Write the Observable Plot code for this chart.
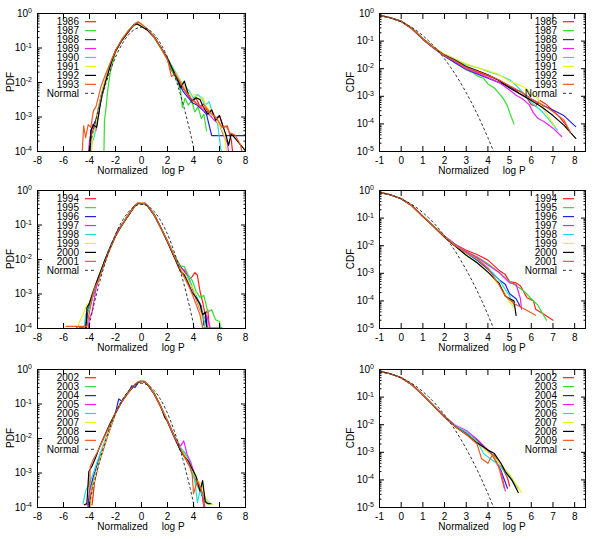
<!DOCTYPE html>
<html>
<head>
<meta charset="utf-8">
<script src="https://cdn.jsdelivr.net/npm/d3@7"></script>
<script src="https://cdn.jsdelivr.net/npm/@observablehq/plot@0.6"></script>
<style>
  body { margin: 0; background: #fff; }
  #fig { position: relative; width: 594px; height: 539px; background: #fff; font-family: "Liberation Sans", Arial, sans-serif; }
  #fig svg { position: absolute; overflow: visible; }
</style>
</head>
<body>
<div id="fig"></div>
<script>
// Years shown in each row of panels
const yearsTop = ["1986", "1987", "1988", "1989", "1990", "1991", "1992", "1993"];
const yearsMid = ["1994", "1995", "1996", "1997", "1998", "1999", "2000", "2001"];
const yearsBot = ["2002", "2003", "2004", "2005", "2006", "2007", "2008", "2009"];

// Series colours, in legend order
const colors = ["#ff2020", "#33dd33", "#2222e0", "#ee22ee", "#22dddd", "#eeee22", "#000000", "#f05a20"];

// Standard normal density, [x, pdf]
const normalPdf = [
  [-4.25, 4.78e-5], [-4, 1.34e-4], [-3.75, 3.53e-4], [-3.5, 8.73e-4], [-3.25, 2.03e-3], [-3, 4.43e-3],
  [-2.75, 9.1e-3], [-2.5, 0.0175], [-2.25, 0.0317], [-2, 0.054], [-1.75, 0.0863], [-1.5, 0.1295],
  [-1.25, 0.1826], [-1, 0.242], [-0.75, 0.3011], [-0.5, 0.3521], [-0.25, 0.3867], [0, 0.3989],
  [0.25, 0.3867], [0.5, 0.3521], [0.75, 0.3011], [1, 0.242], [1.25, 0.1826], [1.5, 0.1295],
  [1.75, 0.0863], [2, 0.054], [2.25, 0.0317], [2.5, 0.0175], [2.75, 9.1e-3], [3, 4.43e-3],
  [3.25, 2.03e-3], [3.5, 8.73e-4], [3.75, 3.53e-4], [4, 1.34e-4], [4.25, 4.78e-5]
];

// Standard normal upper tail, [x, 1 - Phi(x)]
const normalCdf = [
  [-1, 0.8413], [-0.75, 0.7734], [-0.5, 0.6915], [-0.25, 0.5987], [0, 0.5], [0.25, 0.4013],
  [0.5, 0.3085], [0.75, 0.2266], [1, 0.1587], [1.25, 0.1056], [1.5, 0.0668], [1.75, 0.0401],
  [2, 0.02275], [2.25, 0.01222], [2.5, 0.00621], [2.75, 0.00298], [3, 0.00135], [3.25, 5.77e-4],
  [3.5, 2.33e-4], [3.75, 8.84e-5], [4, 3.17e-5], [4.25, 1.07e-5], [4.5, 3.4e-6]
];

// PDF of normalized log price, 1986-1993
const pdfTop = [
  [[-4.0,5e-5],[-3.85,3.5e-4],[-3.6,5e-4],[-3.35,1.6e-3],[-3.1,4e-3],[-2.8,0.011],[-2.5,0.026],[-2.0,0.08],[-1.5,0.17],[-1.0,0.31],[-0.6,0.45],[-0.3,0.56],[0,0.47],[0.5,0.34],[1.0,0.2],[1.5,0.1],[2.0,0.046],[2.3,0.022],[2.6,0.017],[3.0,0.009],[3.3,0.006],[3.6,0.0045],[3.9,0.0028],[4.2,0.0035],[4.5,0.002],[4.8,0.0024],[5.1,0.0014],[5.4,0.0016],[5.7,0.0009],[6.0,0.0011],[6.3,0.0005],[6.6,0.00055],[6.9,0.00022],[7.1,5e-5]],
  [[-2.9,5e-5],[-2.85,8e-4],[-2.75,1.5e-3],[-2.6,6e-3],[-2.4,0.02],[-2.0,0.075],[-1.5,0.18],[-1.0,0.33],[-0.6,0.44],[-0.3,0.5],[0,0.45],[0.5,0.34],[1.0,0.21],[1.5,0.1],[2.0,0.045],[2.4,0.02],[2.8,0.01],[3.0,0.006],[3.15,0.0019],[3.35,0.0035],[3.6,0.0022],[3.85,0.003],[4.1,0.0014],[4.35,0.002],[4.6,0.0009],[4.8,0.0012],[5.0,0.0004]],
  [[-4.05,5e-5],[-3.9,4e-4],[-3.6,7e-4],[-3.3,1.2e-3],[-3.15,3.5e-3],[-3.05,5e-3],[-2.8,0.01],[-2.5,0.028],[-2.0,0.085],[-1.5,0.17],[-1.0,0.31],[-0.6,0.47],[-0.35,0.55],[0,0.44],[0.5,0.32],[1.0,0.2],[1.5,0.1],[2.0,0.046],[2.4,0.024],[2.8,0.011],[3.2,0.0055],[3.5,0.004],[3.9,0.0026],[4.3,0.0022],[4.7,0.0016],[5.0,0.0012],[5.4,2.9e-4],[8.0,2.9e-4]],
  [[-4.15,5e-5],[-4.0,2e-4],[-3.75,6e-4],[-3.5,4e-4],[-3.3,1.5e-3],[-3.0,5e-3],[-2.7,0.014],[-2.3,0.04],[-2.0,0.082],[-1.5,0.17],[-1.0,0.31],[-0.5,0.5],[-0.3,0.54],[0,0.46],[0.5,0.33],[1.0,0.2],[1.5,0.1],[2.0,0.05],[2.4,0.025],[2.8,0.012],[3.2,0.007],[3.6,0.004],[4.0,0.003],[4.4,0.0022],[4.8,0.0015],[5.2,0.0012],[5.6,0.0008],[6.0,0.0006],[6.3,0.0003],[6.6,0.00018],[6.8,5e-5]],
  [[-4.0,5e-5],[-3.85,1.5e-4],[-3.6,3e-4],[-3.3,2e-3],[-3.0,5e-3],[-2.7,0.015],[-2.4,0.035],[-2.0,0.08],[-1.5,0.17],[-1.0,0.32],[-0.5,0.5],[-0.25,0.53],[0,0.45],[0.5,0.33],[1.0,0.2],[1.5,0.1],[2.0,0.05],[2.5,0.024],[2.9,0.013],[3.3,0.008],[3.7,0.0055],[4.0,0.0035],[4.3,0.0045],[4.6,0.0036],[4.9,0.0022],[5.2,0.0028],[5.5,0.0012],[5.8,0.0009],[6.1,0.00012],[6.3,5e-5]],
  [[-3.9,5e-5],[-3.75,3e-4],[-3.5,6e-4],[-3.25,2e-3],[-3.0,6e-3],[-2.6,0.02],[-2.2,0.05],[-1.8,0.11],[-1.4,0.2],[-1.0,0.32],[-0.5,0.48],[-0.2,0.5],[0,0.45],[0.5,0.34],[1.0,0.19],[1.5,0.095],[2.0,0.045],[2.5,0.022],[3.0,0.011],[3.4,0.0065],[3.8,0.004],[4.1,0.0045],[4.4,0.0032],[4.7,0.0038],[5.0,0.002],[5.4,0.0014],[5.8,0.0008],[6.1,0.0005],[6.4,0.00028],[6.6,5e-5]],
  [[-4.0,5e-5],[-3.9,4e-4],[-3.7,6e-4],[-3.45,5e-4],[-3.2,2e-3],[-3.0,5e-3],[-2.7,0.013],[-2.3,0.04],[-2.0,0.08],[-1.5,0.17],[-1.0,0.3],[-0.6,0.46],[-0.35,0.5],[0,0.42],[0.5,0.32],[1.0,0.2],[1.5,0.1],[2.0,0.05],[2.4,0.024],[2.8,0.012],[3.0,0.007],[3.3,0.011],[3.6,0.0045],[3.9,0.003],[4.2,0.0036],[4.5,0.0032],[4.8,0.0018],[5.1,0.0012],[5.4,0.0016],[5.7,0.0008],[6.0,0.0011],[6.3,0.0005],[6.5,0.0003],[6.7,1.5e-4],[6.9,3.3e-4],[8.0,1.05e-4]],
  [[-4.6,5e-5],[-4.45,5.5e-4],[-4.3,2.5e-4],[-4.1,6e-4],[-3.9,5e-4],[-3.7,1.5e-3],[-3.5,2e-3],[-3.3,4e-3],[-3.1,0.008],[-2.8,0.016],[-2.5,0.03],[-2.0,0.085],[-1.5,0.18],[-1.0,0.32],[-0.5,0.5],[-0.25,0.58],[0,0.5],[0.5,0.34],[1.0,0.2],[1.5,0.1],[2.0,0.046],[2.3,0.015],[2.6,0.018],[3.0,0.01],[3.4,0.0055],[3.8,0.0035],[4.2,0.0025],[4.6,0.002],[5.0,0.0018],[5.4,0.0012],[5.8,0.0009],[6.2,0.0005],[6.5,0.00055],[6.8,0.00035],[7.2,0.0003],[7.6,0.00016],[7.9,5e-5]]
];

// PDF of normalized log price, 1994-2001
const pdfMid = [
  [[-4.4,5e-5],[-4.2,3e-4],[-3.9,5e-4],[-3.6,1.5e-3],[-3.3,3e-3],[-3.0,6e-3],[-2.6,0.016],[-2.0,0.05],[-1.5,0.1],[-1.0,0.2],[-0.5,0.37],[-0.25,0.45],[0,0.42],[0.25,0.44],[0.5,0.35],[1.0,0.19],[1.5,0.08],[2.0,0.034],[2.5,0.013],[3.0,0.0062],[3.3,0.0045],[3.6,0.0025],[3.9,0.0032],[4.1,0.0042],[4.3,0.0035],[4.5,0.0012],[4.7,0.0006],[4.9,0.00025],[5.1,0.00035],[5.3,5e-5]],
  [[-4.3,5e-5],[-4.1,4e-4],[-3.8,1e-3],[-3.5,2e-3],[-3.2,4e-3],[-2.8,0.01],[-2.4,0.022],[-2.0,0.05],[-1.5,0.105],[-1.0,0.21],[-0.5,0.37],[-0.25,0.43],[0,0.43],[0.25,0.42],[0.5,0.34],[1.0,0.19],[1.5,0.082],[2.0,0.035],[2.5,0.014],[3.0,0.0065],[3.3,0.0062],[3.6,0.0035],[3.9,0.0025],[4.2,0.0012],[4.5,0.0008],[4.8,0.0009],[5.1,0.0003],[5.4,0.00035],[5.7,0.00018],[6.0,0.00016],[6.2,5e-5]],
  [[-5.0,1.05e-4],[-4.3,1.05e-4],[-4.15,3e-4],[-3.9,6e-4],[-3.6,1.2e-3],[-3.3,3e-3],[-3.0,5.5e-3],[-2.6,0.015],[-2.3,0.03],[-2.1,0.04],[-1.8,0.075],[-1.5,0.1],[-1.0,0.2],[-0.5,0.36],[-0.25,0.44],[0,0.41],[0.25,0.42],[0.5,0.35],[1.0,0.19],[1.5,0.08],[2.0,0.033],[2.5,0.013],[3.0,0.006],[3.4,0.004],[3.7,0.0025],[4.0,0.0012],[4.3,0.0007],[4.6,0.00045],[4.8,0.00012],[5.0,0.0002],[5.1,5e-5]],
  [[-4.2,5e-5],[-4.0,2e-4],[-3.8,3e-4],[-3.5,1.4e-3],[-3.2,3.5e-3],[-2.8,0.009],[-2.4,0.022],[-2.0,0.048],[-1.5,0.1],[-1.0,0.2],[-0.5,0.36],[-0.25,0.45],[0,0.42],[0.25,0.43],[0.5,0.35],[1.0,0.19],[1.5,0.08],[2.0,0.034],[2.5,0.013],[3.0,0.0055],[3.3,0.005],[3.6,0.003],[3.9,0.0015],[4.2,0.0007],[4.5,0.00035],[4.8,0.0002],[5.0,0.00025],[5.3,0.0001],[5.5,5e-5]],
  [[-4.5,5e-5],[-4.3,2.5e-4],[-4.0,4e-4],[-3.7,1e-3],[-3.4,2.5e-3],[-3.1,5e-3],[-2.7,0.012],[-2.3,0.028],[-2.0,0.047],[-1.5,0.1],[-1.0,0.2],[-0.5,0.36],[-0.25,0.43],[0,0.42],[0.25,0.42],[0.5,0.36],[1.0,0.2],[1.5,0.08],[2.0,0.034],[2.5,0.013],[3.0,0.005],[3.3,0.0038],[3.6,0.003],[3.9,0.0016],[4.2,0.0009],[4.5,0.0005],[4.8,0.0002],[5.0,5e-5]],
  [[-5.0,5e-5],[-4.8,1.5e-4],[-4.5,2.5e-4],[-4.2,5e-4],[-3.9,6e-4],[-3.6,1.5e-3],[-3.3,3e-3],[-2.9,7e-3],[-2.5,0.017],[-2.0,0.048],[-1.5,0.1],[-1.0,0.2],[-0.5,0.36],[-0.25,0.44],[0,0.43],[0.25,0.42],[0.5,0.35],[1.0,0.19],[1.5,0.08],[2.0,0.033],[2.5,0.013],[3.0,0.0055],[3.4,0.0035],[3.7,0.002],[4.0,0.0014],[4.3,0.0006],[4.6,0.0003],[4.8,5e-5]],
  [[-4.3,5e-5],[-4.2,4e-4],[-4.0,5.5e-4],[-3.7,1.2e-3],[-3.4,2.5e-3],[-3.1,5e-3],[-2.8,0.01],[-2.4,0.022],[-2.0,0.047],[-1.8,0.065],[-1.5,0.1],[-1.0,0.19],[-0.5,0.37],[-0.25,0.42],[0,0.41],[0.25,0.42],[0.5,0.34],[1.0,0.19],[1.5,0.08],[2.0,0.032],[2.5,0.012],[3.0,0.0045],[3.3,0.0035],[3.6,0.002],[3.9,0.0011],[4.2,0.0008],[4.5,0.0005],[4.7,0.00025],[4.9,0.0003],[5.1,5e-5]],
  [[-5.8,1.15e-4],[-4.2,1.15e-4],[-4.0,3e-4],[-3.8,8e-4],[-3.6,1.5e-3],[-3.3,2.5e-3],[-3.0,5.5e-3],[-2.6,0.014],[-2.0,0.049],[-1.5,0.1],[-1.0,0.2],[-0.5,0.36],[-0.25,0.44],[0,0.42],[0.25,0.43],[0.5,0.35],[1.0,0.19],[1.5,0.08],[2.0,0.034],[2.5,0.013],[3.0,0.005],[3.3,0.003],[3.6,0.0018],[3.9,0.001],[4.2,0.0005],[4.5,0.00025],[4.7,1.05e-4],[6.2,1.05e-4]]
];

// PDF of normalized log price, 2002-2009
const pdfBot = [
  [[-4.3,1.2e-4],[-3.8,1.2e-4],[-3.6,6e-4],[-3.3,1.8e-3],[-3.0,4e-3],[-2.6,0.012],[-2.3,0.025],[-2.0,0.055],[-1.5,0.12],[-1.0,0.22],[-0.5,0.36],[-0.25,0.43],[0,0.47],[0.25,0.44],[0.5,0.36],[1.0,0.19],[1.5,0.08],[2.0,0.032],[2.5,0.012],[3.0,0.005],[3.3,0.003],[3.6,0.0018],[3.9,0.0012],[4.2,0.0006],[4.5,0.0004],[4.8,0.00015],[5.0,5e-5]],
  [[-4.0,5e-5],[-3.8,4e-4],[-3.5,1e-3],[-3.2,2.5e-3],[-2.9,6e-3],[-2.5,0.017],[-2.0,0.055],[-1.5,0.125],[-1.0,0.23],[-0.5,0.37],[-0.25,0.44],[0,0.46],[0.25,0.44],[0.5,0.35],[1.0,0.2],[1.5,0.085],[2.0,0.033],[2.5,0.012],[3.0,0.0045],[3.3,0.0035],[3.6,0.002],[3.9,0.001],[4.2,0.0005],[4.5,0.0003],[4.8,0.0002],[5.0,1.3e-4],[5.4,1.3e-4]],
  [[-4.2,5e-5],[-4.0,3e-4],[-3.7,8e-4],[-3.4,1.8e-3],[-3.0,5e-3],[-2.6,0.013],[-2.0,0.055],[-1.75,0.14],[-1.5,0.12],[-1.0,0.22],[-0.75,0.34],[-0.5,0.3],[-0.25,0.42],[0,0.46],[0.25,0.45],[0.5,0.36],[1.0,0.19],[1.5,0.08],[2.0,0.03],[2.5,0.011],[3.0,0.0045],[3.3,0.004],[3.6,0.0025],[3.9,0.0012],[4.2,0.0007],[4.5,0.00035],[4.7,0.0002],[4.9,5e-5]],
  [[-4.1,5e-5],[-3.9,2.5e-4],[-3.6,6e-4],[-3.3,2e-3],[-3.0,4.5e-3],[-2.6,0.013],[-2.0,0.053],[-1.5,0.12],[-1.0,0.22],[-0.5,0.37],[-0.25,0.43],[0,0.47],[0.25,0.44],[0.5,0.36],[1.0,0.19],[1.5,0.082],[2.0,0.033],[2.5,0.012],[3.0,0.006],[3.25,0.0085],[3.5,0.0035],[3.8,0.002],[4.1,0.0009],[4.4,0.0005],[4.7,0.00025],[4.9,5e-5]],
  [[-4.5,1.3e-4],[-4.3,3e-4],[-4.0,5e-4],[-3.7,1e-3],[-3.4,2.2e-3],[-3.1,4.5e-3],[-2.7,0.011],[-2.0,0.054],[-1.5,0.12],[-1.0,0.22],[-0.5,0.36],[-0.25,0.44],[0,0.48],[0.25,0.45],[0.5,0.37],[1.0,0.2],[1.5,0.08],[2.0,0.032],[2.5,0.012],[3.0,0.0055],[3.3,0.004],[3.6,0.0025],[3.9,0.0012],[4.1,0.0006],[4.3,0.00014],[4.5,0.0003],[4.8,0.0002],[5.3,1.3e-4]],
  [[-4.0,5e-5],[-3.8,3e-4],[-3.5,1e-3],[-3.2,2.5e-3],[-2.9,6e-3],[-2.5,0.017],[-2.0,0.055],[-1.5,0.12],[-1.0,0.22],[-0.5,0.36],[-0.25,0.43],[0,0.47],[0.25,0.44],[0.5,0.36],[1.0,0.19],[1.5,0.08],[2.0,0.032],[2.5,0.012],[3.0,0.005],[3.4,0.003],[3.7,0.0018],[4.0,0.001],[4.3,0.0006],[4.6,0.0005],[4.9,0.0002],[5.2,1.3e-4],[5.5,1.2e-4]],
  [[-4.4,1.2e-4],[-4.2,1.3e-4],[-4.05,1.1e-3],[-3.8,1.6e-3],[-3.5,3e-3],[-3.2,6e-3],[-2.8,0.013],[-2.4,0.028],[-2.0,0.056],[-1.5,0.12],[-1.0,0.22],[-0.5,0.36],[-0.25,0.42],[0,0.45],[0.25,0.43],[0.5,0.35],[1.0,0.19],[1.5,0.08],[1.8,0.04],[2.0,0.032],[2.5,0.012],[3.0,0.0045],[3.3,0.003],[3.6,0.0022],[3.9,0.0013],[4.2,0.0008],[4.5,0.0003],[4.7,0.0006],[4.9,0.00015],[5.1,1.3e-4],[5.3,1.3e-4]],
  [[-4.0,5e-5],[-3.95,1.5e-3],[-3.7,2.5e-3],[-3.4,4e-3],[-3.1,7e-3],[-2.7,0.015],[-2.3,0.03],[-2.0,0.056],[-1.5,0.12],[-1.0,0.22],[-0.5,0.37],[-0.25,0.44],[0,0.46],[0.25,0.44],[0.5,0.36],[1.0,0.19],[1.5,0.08],[2.0,0.032],[2.5,0.012],[3.0,0.005],[3.3,0.003],[3.6,0.002],[3.9,0.0009],[4.0,0.00025],[4.3,0.0006],[4.5,0.0004],[4.7,0.00025],[4.9,5e-5]]
];

// Upper-tail CDF of normalized log price, 1986-1993
const cdfTop = [
  [[-1,0.85],[-0.5,0.7],[0,0.52],[0.5,0.29],[1,0.12],[1.5,0.058],[2,0.031],[2.5,0.018],[3,0.011],[3.5,0.0075],[4,0.0055],[4.5,0.0038],[5,0.0022],[5.3,0.0016],[5.5,0.0012],[5.8,0.0009],[6.0,0.0005],[6.2,0.00045],[6.4,0.0007],[6.7,0.0005],[7.0,0.0003],[7.3,0.00018],[7.6,9e-5],[7.8,5e-5]],
  [[-1,0.85],[-0.5,0.71],[0,0.54],[0.5,0.3],[1,0.125],[1.5,0.06],[2,0.03],[2.5,0.016],[3,0.009],[3.3,0.0072],[3.5,0.0055],[3.8,0.0045],[4.0,0.0028],[4.3,0.002],[4.5,0.0013],[4.7,0.00085],[4.9,0.00045],[5.05,0.0002],[5.2,1e-4]],
  [[-1,0.85],[-0.5,0.7],[0,0.51],[0.5,0.28],[1,0.115],[1.5,0.055],[2,0.028],[2.5,0.016],[3,0.0095],[3.5,0.0065],[4,0.0045],[4.5,0.0032],[5,0.0022],[5.5,0.0015],[6,0.0008],[6.5,0.00048],[7,0.00032],[7.5,0.0002],[8.05,8e-5]],
  [[-1,0.85],[-0.5,0.7],[0,0.52],[0.5,0.28],[1,0.12],[1.5,0.057],[2,0.03],[2.5,0.018],[3,0.01],[3.5,0.007],[4,0.0048],[4.5,0.0032],[5,0.0017],[5.3,0.0011],[5.6,0.0008],[5.9,0.0005],[6.1,0.00025],[6.3,0.00016],[6.6,0.00012],[7.0,7e-5],[7.4,3.5e-5]],
  [[-1,0.85],[-0.5,0.7],[0,0.52],[0.5,0.29],[1,0.12],[1.5,0.06],[2,0.033],[2.5,0.022],[3,0.014],[3.5,0.011],[4,0.008],[4.5,0.006],[5,0.004],[5.3,0.0025],[5.6,0.0014],[6,0.0006],[6.5,0.00028],[6.8,0.00015],[7.2,6e-5]],
  [[-1,0.85],[-0.5,0.7],[0,0.52],[0.5,0.29],[1,0.12],[1.5,0.06],[2,0.034],[2.5,0.022],[3,0.015],[3.5,0.011],[4,0.0085],[4.5,0.0062],[5,0.0035],[5.5,0.0025],[5.8,0.0018],[6.0,0.0012],[6.3,0.0009],[6.5,0.0004],[6.8,0.00018],[7.1,8e-5]],
  [[-1,0.85],[-0.5,0.7],[0,0.52],[0.5,0.28],[1,0.12],[1.5,0.058],[2,0.031],[2.5,0.02],[3,0.012],[3.5,0.0085],[4,0.006],[4.5,0.0038],[5,0.002],[5.5,0.0012],[6,0.0007],[6.5,0.0004],[7,0.0002],[7.5,9e-5],[8.05,3e-5]],
  [[-1,0.85],[-0.5,0.7],[0,0.52],[0.5,0.28],[1,0.12],[1.5,0.057],[2,0.03],[2.5,0.019],[3,0.011],[3.5,0.008],[4,0.0058],[4.5,0.004],[5,0.0024],[5.5,0.0015],[6,0.0008],[6.5,0.0005],[7,0.00028],[7.5,0.00014],[7.8,5e-5]]
];

// Upper-tail CDF of normalized log price, 1994-2001
const cdfMid = [
  [[-1,0.85],[-0.5,0.7],[0,0.5],[0.5,0.28],[1,0.115],[1.5,0.05],[2,0.022],[2.5,0.011],[3,0.0068],[3.5,0.0048],[4,0.003],[4.5,0.0013],[4.8,0.0009],[5.0,0.0005],[5.3,0.00045],[5.5,0.00035],[5.8,0.00013],[6.1,0.0001],[6.2,5e-5],[6.6,3.2e-5],[7.0,2e-5]],
  [[-1,0.85],[-0.5,0.7],[0,0.5],[0.5,0.28],[1,0.115],[1.5,0.05],[2,0.022],[2.5,0.011],[3,0.006],[3.5,0.004],[4,0.0022],[4.5,0.0011],[5.0,0.0005],[5.3,0.00035],[5.6,0.00025],[6.0,0.00012],[6.3,7e-5],[6.7,2e-5]],
  [[-1,0.85],[-0.5,0.7],[0,0.5],[0.5,0.28],[1,0.115],[1.5,0.05],[2,0.021],[2.5,0.01],[3,0.0055],[3.5,0.003],[4,0.0014],[4.5,0.0006],[4.8,0.0004],[5.0,0.00018],[5.3,0.00012],[5.5,6e-5]],
  [[-1,0.85],[-0.5,0.7],[0,0.5],[0.5,0.28],[1,0.115],[1.5,0.05],[2,0.022],[2.5,0.011],[3,0.006],[3.5,0.0038],[4,0.002],[4.5,0.0011],[5.0,0.00045],[5.3,0.0004],[5.5,0.00012],[5.55,5e-5]],
  [[-1,0.85],[-0.5,0.7],[0,0.5],[0.5,0.28],[1,0.115],[1.5,0.05],[2,0.021],[2.5,0.01],[3,0.0055],[3.5,0.0032],[4,0.0016],[4.5,0.0006],[5.0,0.00015],[5.2,7e-5]],
  [[-1,0.85],[-0.5,0.7],[0,0.5],[0.5,0.28],[1,0.115],[1.5,0.049],[2,0.02],[2.5,0.0095],[3,0.0045],[3.5,0.0025],[4,0.0011],[4.5,0.0004],[4.8,0.00018],[5.0,9e-5],[5.2,6e-5]],
  [[-1,0.85],[-0.5,0.7],[0,0.5],[0.5,0.28],[1,0.115],[1.5,0.049],[2,0.02],[2.5,0.0095],[3,0.0045],[3.5,0.0024],[4,0.0011],[4.5,0.00045],[4.8,0.00015],[5.0,0.00012],[5.2,0.0001],[5.3,3e-5]],
  [[-1,0.85],[-0.5,0.7],[0,0.5],[0.5,0.28],[1,0.115],[1.5,0.05],[2,0.021],[2.5,0.01],[3,0.0055],[3.5,0.0035],[4,0.0015],[4.5,0.0004],[4.8,0.00015],[5.2,8e-5],[5.7,5e-5],[6.2,3e-5]]
];

// Upper-tail CDF of normalized log price, 2002-2009
const cdfBot = [
  [[-1,0.85],[-0.5,0.7],[0,0.5],[0.5,0.28],[1,0.12],[1.5,0.047],[2,0.019],[2.5,0.0085],[3,0.0045],[3.5,0.0022],[4,0.0011],[4.3,0.00075],[4.6,0.00035],[4.9,0.00012],[5.0,6e-5]],
  [[-1,0.85],[-0.5,0.7],[0,0.5],[0.5,0.28],[1,0.12],[1.5,0.048],[2,0.02],[2.5,0.009],[3,0.0048],[3.5,0.0025],[4,0.0012],[4.5,0.00045],[5.0,0.00015],[5.4,5e-5]],
  [[-1,0.85],[-0.5,0.7],[0,0.5],[0.5,0.28],[1,0.12],[1.5,0.048],[2,0.02],[2.5,0.009],[3,0.005],[3.5,0.0028],[4,0.0012],[4.3,0.0006],[4.6,0.00022],[4.9,5e-5]],
  [[-1,0.85],[-0.5,0.7],[0,0.5],[0.5,0.28],[1,0.12],[1.5,0.048],[2,0.02],[2.5,0.0095],[3,0.0062],[3.5,0.003],[4,0.0012],[4.3,0.0006],[4.6,0.0002],[4.8,4e-5]],
  [[-1,0.85],[-0.5,0.7],[0,0.5],[0.5,0.28],[1,0.12],[1.5,0.048],[2,0.02],[2.5,0.009],[3,0.0055],[3.5,0.0025],[3.8,0.0009],[4.1,0.0006],[4.5,0.00035],[5.0,0.00012],[5.4,5e-5]],
  [[-1,0.85],[-0.5,0.7],[0,0.5],[0.5,0.28],[1,0.12],[1.5,0.047],[2,0.019],[2.5,0.0085],[3,0.0045],[3.5,0.0023],[4,0.001],[4.5,0.00045],[5.0,0.00015],[5.55,3.5e-5]],
  [[-1,0.85],[-0.5,0.7],[0,0.5],[0.5,0.28],[1,0.12],[1.5,0.047],[2,0.019],[2.5,0.0085],[3,0.0045],[3.5,0.0022],[4,0.0012],[4.3,0.0009],[4.6,0.0004],[4.8,0.0002],[5.1,0.0001],[5.4,3.5e-5]],
  [[-1,0.85],[-0.5,0.7],[0,0.5],[0.5,0.28],[1,0.12],[1.5,0.047],[2,0.019],[2.5,0.0085],[3,0.0045],[3.5,0.002],[3.7,0.0006],[4.0,0.0004],[4.2,0.0008],[4.5,0.0003],[4.75,5e-5]]
];

// Axis ticks
const pdfXTicks = [-8, -6, -4, -2, 0, 2, 4, 6, 8];
const cdfXTicks = [-1, 0, 1, 2, 3, 4, 5, 6, 7, 8];

const fig = document.getElementById("fig");
const FONT = "Liberation Sans, Arial, Helvetica, sans-serif";

function drawPanel({col, frameTop, series, years, normal, xDomain, xTicks, yDomain, ylabel}) {
  const svgLeft = col === 0 ? 0 : 300;
  const width = col === 0 ? 300 : 294;
  const marginLeft = col === 0 ? 37 : 79;
  const marginRight = col === 0 ? 55 : 9;
  const marginTop = 10, marginBottom = 32, frameH = 138;

  const lo = Math.round(Math.log10(yDomain[0])), hi = Math.round(Math.log10(yDomain[1]));
  const majors = d3.range(lo, hi + 1).map(e => Math.pow(10, e));
  const minors = d3.range(lo, hi).flatMap(e => d3.range(2, 10).map(m => m * Math.pow(10, e)));
  const blank = () => "";

  const plot = Plot.plot({
    width,
    height: frameH + marginTop + marginBottom,
    marginLeft, marginRight, marginTop, marginBottom,
    style: {fontFamily: FONT, fontSize: "10px", background: "transparent", color: "#000"},
    x: {domain: xDomain},
    y: {type: "log", domain: yDomain},
    marks: [
      ...series.map((s, i) => Plot.line(s, {x: d => d[0], y: d => d[1], stroke: colors[i], strokeWidth: 1.2, clip: true})),
      Plot.line(normal, {x: d => d[0], y: d => d[1], stroke: "#333", strokeWidth: 1, strokeDasharray: "2,3", clip: true}),
      Plot.frame({stroke: "#000"}),
      Plot.axisX(xTicks, {anchor: "bottom", tickSize: -5, tickPadding: 10, tickFormat: d => String(d), label: null}),
      Plot.axisX(xTicks, {anchor: "top", tickSize: -5, tickFormat: blank, label: null}),
      Plot.axisY(majors, {anchor: "left", tickSize: -5, tickFormat: blank, label: null}),
      Plot.axisY(majors, {anchor: "right", tickSize: -5, tickFormat: blank, label: null}),
      Plot.axisY(minors, {anchor: "left", tickSize: -2.5, tickFormat: blank, label: null}),
      Plot.axisY(minors, {anchor: "right", tickSize: -2.5, tickFormat: blank, label: null})
    ]
  });

  plot.style.left = svgLeft + "px";
  plot.style.top = (frameTop - marginTop) + "px";
  fig.appendChild(plot);

  const sy = plot.scale("y");
  const yPos = sy.apply ? v => sy.apply(v) : d3.scaleLog(sy.domain, sy.range);
  const svg = d3.select(plot);

  // y tick labels as powers of ten
  const yl = svg.append("g").attr("font-family", FONT).attr("font-size", 10).attr("text-anchor", "end").attr("fill", "#000");
  majors.forEach(v => {
    const t = yl.append("text").attr("x", marginLeft - 5).attr("y", yPos(v)).attr("dy", "0.35em");
    t.append("tspan").text("10");
    t.append("tspan").attr("dy", "-0.5em").attr("font-size", 7).text(String(Math.round(Math.log10(v))));
  });

  // axis titles
  const frameMidX = marginLeft + (width - marginLeft - marginRight) / 2;
  svg.append("text")
    .attr("x", frameMidX).attr("y", marginTop + frameH + 23)
    .attr("text-anchor", "middle").attr("font-family", FONT).attr("font-size", 10)
    .text("Normalized\u00a0\u00a0\u00a0\u00a0\u00a0log P");
  const lx = col === 0 ? 10 : 50;
  svg.append("text")
    .attr("transform", `translate(${lx},${marginTop + frameH / 2}) rotate(-90)`)
    .attr("text-anchor", "middle").attr("dy", "0.35em")
    .attr("font-family", FONT).attr("font-size", 10)
    .text(ylabel);

  // key
  const textEnd = col === 0 ? 79 : 257;
  const lineX0 = textEnd + 6, lineX1 = textEnd + 17;
  const key = svg.append("g").attr("font-family", FONT).attr("font-size", 10);
  const entries = years.map((y, i) => ({label: y, color: colors[i], dash: null}))
    .concat([{label: "Normal", color: "#333", dash: "3,3"}]);
  entries.forEach((e, i) => {
    const cy = marginTop + 8.7 + i * 8.95;
    key.append("text").attr("x", textEnd).attr("y", cy).attr("dy", "0.35em")
      .attr("text-anchor", "end").text(e.label);
    key.append("line").attr("x1", lineX0).attr("x2", lineX1).attr("y1", cy).attr("y2", cy)
      .attr("stroke", e.color).attr("stroke-width", e.dash ? 1 : 1.2)
      .attr("stroke-dasharray", e.dash);
  });
}

const rows = [
  {frameTop: 13, years: yearsTop, pdf: pdfTop, cdf: cdfTop},
  {frameTop: 190, years: yearsMid, pdf: pdfMid, cdf: cdfMid},
  {frameTop: 369, years: yearsBot, pdf: pdfBot, cdf: cdfBot}
];

rows.forEach(r => {
  drawPanel({col: 0, frameTop: r.frameTop, series: r.pdf, years: r.years, normal: normalPdf,
    xDomain: [-8, 8], xTicks: pdfXTicks, yDomain: [1e-4, 1], ylabel: "PDF"});
  drawPanel({col: 1, frameTop: r.frameTop, series: r.cdf, years: r.years, normal: normalCdf,
    xDomain: [-1, 8.5], xTicks: cdfXTicks, yDomain: [1e-5, 1], ylabel: "CDF"});
});
</script>
</body>
</html>
